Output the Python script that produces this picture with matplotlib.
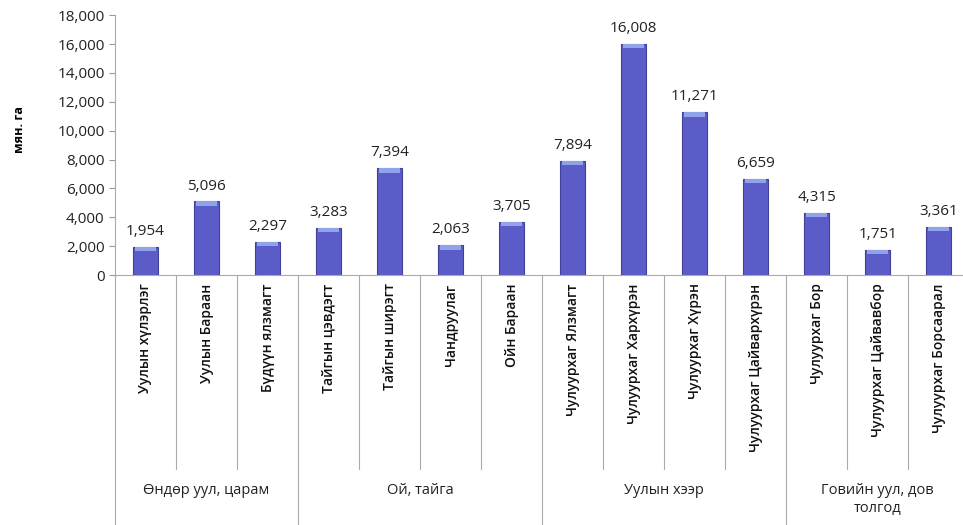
import matplotlib
matplotlib.use("Agg")
import matplotlib.pyplot as plt
from matplotlib.ticker import FuncFormatter

plt.rcParams['font.family'] = ['Open Sans', 'DejaVu Sans']

# data
categories = [
    "Уулын хүлэрлэг", "Уулын Бараан", "Бүдүүн ялзмагт",
    "Тайгын цэвдэгт", "Тайгын ширэгт", "Чандруулаг", "Ойн Бараан",
    "Чулуурхаг Ялзмагт", "Чулуурхаг Хархүрэн", "Чулуурхаг Хүрэн", "Чулуурхаг Цайвархүрэн",
    "Чулуурхаг Бор", "Чулуурхаг Цайвавбор", "Чулуурхаг Борсаарал",
]
values = [1954, 5096, 2297, 3283, 7394, 2063, 3705,
          7894, 16008, 11271, 6659, 4315, 1751, 3361]
groups = ["Өндөр уул, царам", "Ой, тайга", "Уулын хээр", "Говийн уул, дов\nтолгод"]
group_sizes = [3, 4, 4, 3]
ylabel = "мян. га"

fig = plt.figure(figsize=(9.63, 5.25), dpi=100)
ax = fig.add_axes([0.1194, 0.476, 0.887, 0.4952])

x = list(range(len(values)))
ax.bar(x, values, width=0.42, color="#5c5cc8", edgecolor="#40409a", linewidth=0.8, zorder=2)
# light cap on the bar tops
ax.bar(x, [300] * len(values), bottom=[v - 300 for v in values], width=0.34,
       color="#8fa2ea", linewidth=0, zorder=3)

for xi, v in zip(x, values):
    ax.text(xi, v + 550, f"{v:,}", ha="center", va="bottom", fontsize=11, color="#222222")

ax.set_xlim(-0.5, len(values) - 0.5)
ax.set_ylim(0, 18000)
ax.set_yticks(range(0, 18001, 2000))
ax.yaxis.set_major_formatter(FuncFormatter(lambda v, p: f"{int(v):,}"))
ax.tick_params(axis="y", labelsize=11, colors="#999999", labelcolor="#222222", length=4)
ax.set_xticks(x)
ax.set_xticklabels(categories, rotation=90, fontsize=10, color="#111111", fontweight="semibold")
ax.tick_params(axis="x", length=0, pad=6)

for s in ["top", "right"]:
    ax.spines[s].set_visible(False)
for s in ["left", "bottom"]:
    ax.spines[s].set_color("#aaaaaa")

ax.set_ylabel(ylabel, fontsize=9, fontweight="bold")
ax.yaxis.set_label_coords(-0.104, 0.56)

# category separators below the axis
tr = ax.get_xaxis_transform()
boundaries = []
pos = 0
for n in group_sizes:
    boundaries.append(pos)
    pos += n
boundaries.append(pos)
for b in range(len(values) + 1):
    y_end = -0.96 if b in boundaries else -0.745
    ax.plot([b - 0.5, b - 0.5], [0, y_end], transform=tr, color="#aaaaaa",
            linewidth=0.8, clip_on=False)

for i, g in enumerate(groups):
    center = (boundaries[i] + boundaries[i + 1]) / 2 - 0.5
    ax.text(center, -0.80, g, transform=tr, ha="center", va="top",
            fontsize=10.5, color="#222222", linespacing=1.3)

fig.savefig("out.png", dpi=100)
